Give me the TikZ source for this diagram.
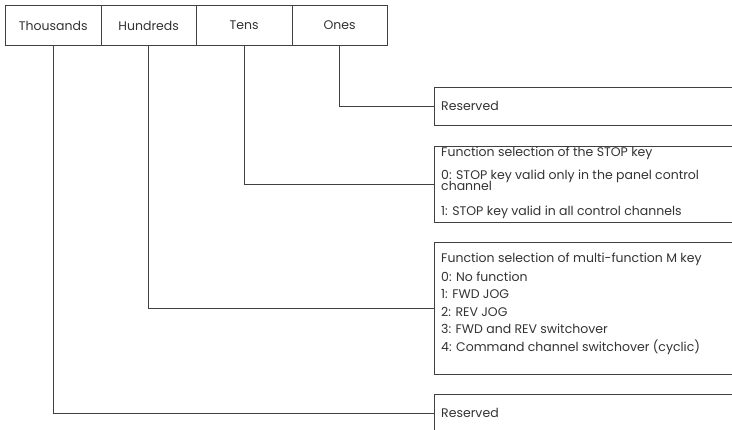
\documentclass[tikz,border=0pt]{standalone}
\usepackage{fontspec}
\setmainfont{Poppins}
\begin{document}
\begin{tikzpicture}[x=1pt,y=-1pt,
  frame/.style={draw=black!75,line width=0.9pt},
  digit/.style={frame,minimum width=95.5pt,minimum height=40pt,inner sep=0pt,
    anchor=north west,font=\fontsize{12.5}{14}\selectfont,text=black!80},
  panel/.style={frame,inner sep=0pt,anchor=north west,minimum width=311pt},
  txt/.style={anchor=base west,inner sep=0pt,font=\fontsize{12.5}{14}\selectfont,text=black!80},
  wire/.style={draw=black!75,line width=0.9pt}]
\useasboundingbox (0,0) rectangle (732,430);
\clip (0,0) rectangle (732,430);

% digit boxes
\node[digit] (th) at (5,5)     {\raisebox{-1pt}{Thousands}};
\node[digit] (hu) at (100.5,5) {\raisebox{-1pt}{Hundreds}};
\node[digit] (te) at (196,5)   {\raisebox{-1pt}{Tens}};
\node[digit] (on) at (291.5,5) {\raisebox{-1pt}{Ones}};

% description panels (open past the right edge)
\node[panel,minimum height=38pt] (p1) at (434,87)  {};
\node[panel,minimum height=76pt] (p2) at (434,146) {};
\node[panel,minimum height=132pt] (p3) at (434,242) {};
\node[panel,minimum height=38pt] (p4) at (434,394) {};

% panel texts
\node[txt] (r1) at (441,111) {Reserved};
\foreach \t/\y [count=\i] in {
  {Function selection of the STOP key}/157,
  {0: STOP key valid only in the panel control}/180,
  {channel}/191,
  {1: STOP key valid in all control channels}/216}
  \node[txt] (s\i) at (441,\y) {\t};
\foreach \t/\y [count=\i] in {
  {Function selection of multi-function M key}/263,
  {0: No function}/281.5,
  {1: FWD JOG}/299,
  {2: REV JOG}/316.5,
  {3: FWD and REV switchover}/334,
  {4: Command channel switchover (cyclic)}/352}
  \node[txt] (m\i) at (441,\y) {\t};
\node[txt] (r4) at (441,418) {Reserved};

% connectors
\draw[wire] (on.south) |- (p1.west);
\draw[wire] (te.south) |- (p2.west);
\draw[wire] (hu.south) |- (p3.west);
\draw[wire] (th.south) |- (p4.west);
\end{tikzpicture}
\end{document}
